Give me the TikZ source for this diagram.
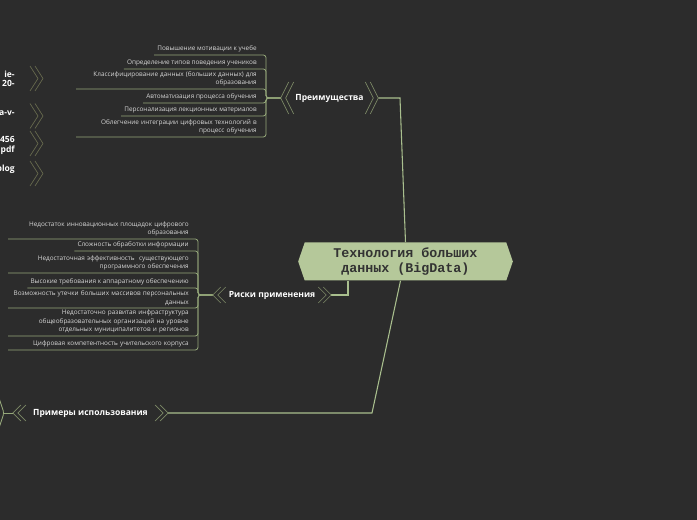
\documentclass[tikz,border=0pt]{standalone}
\usepackage{fontspec}
\setmainfont{Open Sans}
\newfontfamily\hubfont{Liberation Mono}
\usepackage{tikz}
\usetikzlibrary{calc,shapes.symbols}

\definecolor{bgdark}{HTML}{2C2C2C}
\definecolor{hubfill}{HTML}{B5C89A}
\definecolor{hubtext}{HTML}{333333}
\definecolor{stemgreen}{HTML}{A9BF8E}
\definecolor{twiggreen}{HTML}{95A87A}
\definecolor{chevgreen}{HTML}{7D8A67}
\definecolor{chevdim}{HTML}{676A4E}
\definecolor{kidtext}{HTML}{D6D6D6}

\begin{document}
\begin{tikzpicture}[x=0.75pt,y=-0.75pt,
  hub/.style={signal,signal to=east and west,signal pointer angle=142,fill=hubfill,text=hubtext,
    minimum width=161pt,minimum height=28.5pt,inner sep=0pt,align=center,
    font=\hubfont\bfseries\fontsize{10}{11.3}\selectfont},
  lab/.style={text=white,inner sep=0pt,minimum height=12pt,font=\bfseries\fontsize{6.4}{8}\selectfont},
  edgelab/.style={lab,align=right,anchor=east,font=\bfseries\fontsize{6.4}{7}\selectfont},
  kid/.style={text=kidtext,align=right,anchor=south east,inner xsep=2.25pt,inner ysep=1.8pt,
    font=\fontsize{4.8}{6.4}\selectfont},
  kidwide/.style={kid,text width=133pt},
  stem/.style={draw=stemgreen,line width=0.8pt},
  twig/.style={draw=twiggreen,line width=0.6pt,rounded corners=2pt},
  chev/.style={draw=chevgreen,line width=0.5pt},
  chevd/.style={draw=chevdim,line width=0.5pt}]
\fill[bgdark] (0,0) rectangle (697,520);
\clip (0,0) rectangle (697,520);

% centre
\node[hub] (tech) at (405.5,261.5) {Технология больших\\данных (BigData)};

% main branches
\node[lab,minimum width=72.75pt] (pre) at (329.5,98) {Преимущества};
\node[lab,minimum width=88.5pt] (risk) at (272,295) {Риски применения};
\node[lab,minimum width=116pt] (ex) at (90.5,413) {Примеры использования};

\coordinate (preB) at (400,98);
\coordinate (riskB) at (348,295);
\coordinate (exB) at (372,413);
\draw[stem] (tech.north) -- (preB) -- (pre.east);
\draw[stem] (riskB |- tech.south) -- (riskB) -- (risk.east);
\draw[stem] ($(tech.south)+(-5,0)$) -- (exB) -- (ex.east);

% chevrons
\foreach \n/\h in {pre/16,risk/8,ex/8}{
  \draw[chev] ($(\n.west)+(8,-\h)$) -- (\n.west) -- ($(\n.west)+(8,\h)$);
  \draw[chev] ($(\n.west)+(13,-\h)$) -- ($(\n.west)+(5,0)$) -- ($(\n.west)+(13,\h)$);
  \draw[chev] ($(\n.east)+(-8,-\h)$) -- (\n.east) -- ($(\n.east)+(-8,\h)$);
  \draw[chev] ($(\n.east)+(-13,-\h)$) -- ($(\n.east)+(-5,0)$) -- ($(\n.east)+(-13,\h)$);
}

% Преимущества
\coordinate (preJ) at (266,98);
\node[kid] (p1) at (260,55) {Повышение мотивации к учебе};
\node[kid] (p2) at (260,69) {Определение типов поведения учеников};
\node[kidwide] (p3) at (260,89) {Классифицирование данных (больших данных) для\\образования};
\node[kid] (p4) at (260,103) {Автоматизация процесса обучения};
\node[kid] (p5) at (260,116) {Персонализация лекционных материалов};
\node[kidwide] (p6) at (260,137) {Облегчение интеграции цифровых технологий в\\процесс обучения};
\foreach \c in {p1,p2,p3,p4,p5,p6}
  \draw[twig] (\c.south west) -| (preJ) -- (pre.west);

% Риски применения
\coordinate (riskJ) at (198,295);
\node[kidwide] (r1) at (192,239) {Недостаток инновационных площадок цифрового\\образования};
\node[kid] (r2) at (192,251) {Сложность обработки информации};
\node[kidwide] (r3) at (192,273) {Недостаточная эффективность \ существующего\\программного обеспечения};
\node[kid] (r4) at (192,288) {Высокие требования к аппаратному обеспечению};
\node[kidwide] (r5) at (192,308) {Возможность утечки больших массивов персональных\\данных};
\node[kidwide] (r6) at (192,336) {Недостаточно развитая инфраструктура\\общеобразовательных организаций на уровне\\отдельных муниципалитетов и регионов};
\node[kidwide] (r7) at (192,350) {Цифровая компетентность учительского корпуса};
\foreach \c in {r1,r2,r3,r4,r5,r6,r7}
  \draw[twig] (\c.south west) -| (riskJ) -- (risk.west);

% Примеры использования
\coordinate (exJ) at (4,413);
\coordinate (exU) at (-4,389);
\coordinate (exD) at (-4,437);
\draw[twig] (exU) -- (exJ) -- (exD);
\draw[twig] (exJ) -- (ex.west);

\node[edgelab] (l1) at (15,78.5) {ie-\\20-};
\node[edgelab] (l2) at (15,113) {a-v-};
\node[edgelab] (l3) at (15,145.5) {456\\pdf};
\node[edgelab] (l4) at (15,169) {blog};
\foreach \n/\d in {l1/0,l2/3,l3/-2,l4/4.5}{
  \draw[chevd] ($(\n.east)+(20,\d-12.5)$) -- ($(\n.east)+(28,\d)$) -- ($(\n.east)+(20,\d+12.5)$);
  \draw[chevd] ($(\n.east)+(15,\d-12.5)$) -- ($(\n.east)+(23,\d)$) -- ($(\n.east)+(15,\d+12.5)$);
}
\end{tikzpicture}
\end{document}
